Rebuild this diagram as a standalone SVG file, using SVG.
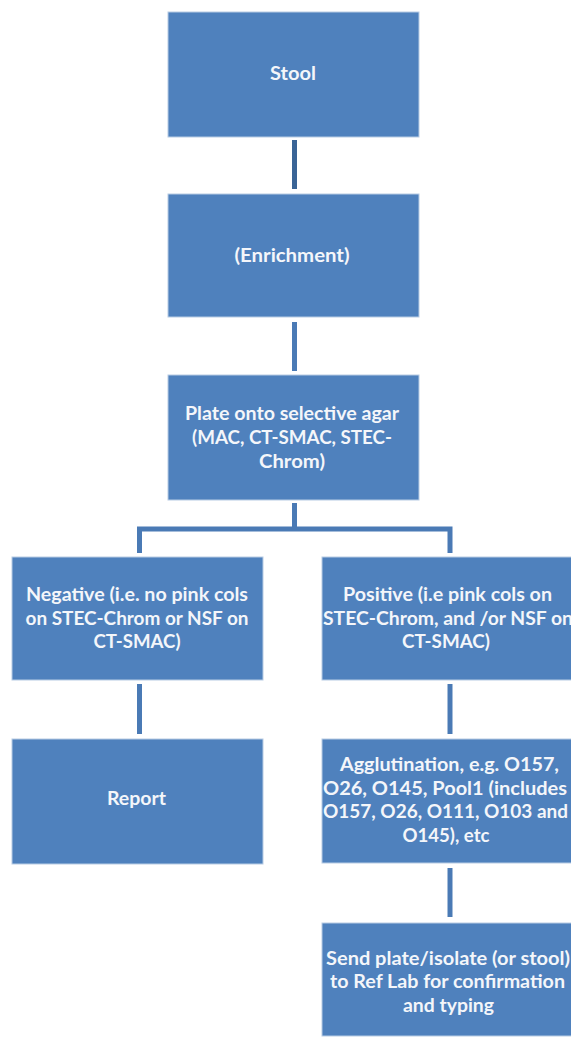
<svg xmlns="http://www.w3.org/2000/svg" width="571" height="1038" viewBox="0 0 571 1038">
<style>
.box{fill:#4F81BD;stroke:#B8CCE4;stroke-width:1}
.t{font-family:Lato,"Liberation Sans",sans-serif;font-weight:bold;font-size:19px;fill:#F4F6FA;text-anchor:middle}
.c{stroke:#4A7AB5;stroke-width:5;fill:none;stroke-linejoin:miter}
.c1{stroke:#3A6496}
</style>
<rect width="571" height="1038" fill="#FFFFFF"/>
<g id="connectors">
<line class="c c1" x1="294.5" y1="140" x2="294.5" y2="189"/>
<line class="c" x1="294.5" y1="322" x2="294.5" y2="371"/>
<line class="c" x1="294.5" y1="503" x2="294.5" y2="529"/>
<polyline class="c" points="139.5,553 139.5,529 450,529 450,553"/>
<line class="c" x1="139.5" y1="684" x2="139.5" y2="734"/>
<line class="c" x1="450" y1="684" x2="450" y2="734"/>
<line class="c" x1="450" y1="868" x2="450" y2="917"/>
</g>
<g id="stool">
<rect class="box" x="168" y="12" width="251" height="125"/>
<text class="t" x="293" y="80" textLength="46" lengthAdjust="spacingAndGlyphs">Stool</text>
</g>
<g id="enrichment">
<rect class="box" x="168" y="194" width="251" height="123"/>
<text class="t" x="292" y="262" textLength="115" lengthAdjust="spacingAndGlyphs">(Enrichment)</text>
</g>
<g id="plate">
<rect class="box" x="168" y="375" width="251" height="125"/>
<text class="t" x="292" y="420" textLength="214" lengthAdjust="spacingAndGlyphs">Plate onto selective agar</text>
<text class="t" x="292" y="444" textLength="200" lengthAdjust="spacingAndGlyphs">(MAC, CT-SMAC, STEC-</text>
<text class="t" x="292" y="468" textLength="66" lengthAdjust="spacingAndGlyphs">Chrom)</text>
</g>
<g id="negative">
<rect class="box" x="12" y="557" width="251" height="123"/>
<text class="t" x="137" y="601" textLength="222" lengthAdjust="spacingAndGlyphs">Negative (i.e. no pink cols</text>
<text class="t" x="137" y="625" textLength="223" lengthAdjust="spacingAndGlyphs">on STEC-Chrom or NSF on</text>
<text class="t" x="137" y="648" textLength="87" lengthAdjust="spacingAndGlyphs">CT-SMAC)</text>
</g>
<g id="positive">
<rect class="box" x="322" y="557" width="251" height="123"/>
<text class="t" x="447.5" y="601" textLength="209" lengthAdjust="spacingAndGlyphs">Positive (i.e pink cols on</text>
<text class="t" x="448" y="625" textLength="250" lengthAdjust="spacingAndGlyphs">STEC-Chrom, and /or NSF on</text>
<text class="t" x="446" y="648" textLength="88" lengthAdjust="spacingAndGlyphs">CT-SMAC)</text>
</g>
<g id="report">
<rect class="box" x="12" y="739" width="251" height="125"/>
<text class="t" x="136.5" y="805" textLength="59" lengthAdjust="spacingAndGlyphs">Report</text>
</g>
<g id="agglutination">
<rect class="box" x="322" y="739" width="251" height="124"/>
<text class="t" x="449.5" y="771" textLength="219" lengthAdjust="spacingAndGlyphs">Agglutination, e.g. O157,</text>
<text class="t" x="445" y="795" textLength="244" lengthAdjust="spacingAndGlyphs">O26, O145,  Pool1 (includes</text>
<text class="t" x="445.5" y="818" textLength="245" lengthAdjust="spacingAndGlyphs">O157, O26, O111, O103 and</text>
<text class="t" x="446" y="842" textLength="87" lengthAdjust="spacingAndGlyphs">O145), etc</text>
</g>
<g id="send">
<rect class="box" x="322" y="923" width="251" height="113"/>
<text class="t" x="448" y="965" textLength="244" lengthAdjust="spacingAndGlyphs">Send plate/isolate (or stool)</text>
<text class="t" x="447.5" y="988" textLength="235" lengthAdjust="spacingAndGlyphs">to Ref Lab for confirmation</text>
<text class="t" x="448.5" y="1012" textLength="91" lengthAdjust="spacingAndGlyphs">and typing</text>
</g>
</svg>
